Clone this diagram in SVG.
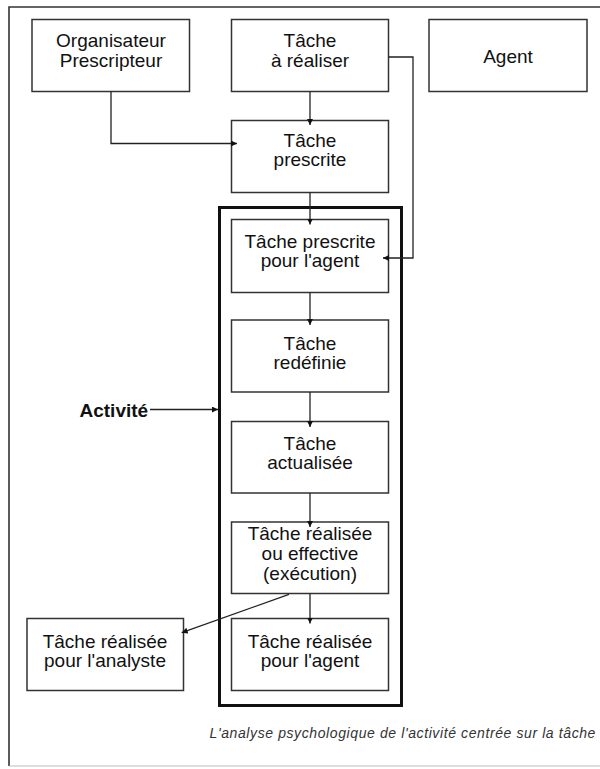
<svg xmlns="http://www.w3.org/2000/svg" width="600" height="769" viewBox="0 0 600 769">
<defs>
<style>
.box{fill:#fff;stroke:#333;stroke-width:1.5}
.lbl{font-family:"Liberation Sans",Arial,sans-serif;font-size:19px;fill:#111;text-anchor:middle}
.con{fill:none;stroke:#222;stroke-width:1.3}
.act{font-family:"Liberation Sans",Arial,sans-serif;font-size:19px;font-weight:bold;fill:#111}
.cap{font-family:"Liberation Sans",Arial,sans-serif;font-size:14px;font-style:italic;fill:#333;letter-spacing:0.6px;text-anchor:end}
</style>
<marker id="arr" markerUnits="userSpaceOnUse" markerWidth="7" markerHeight="7" refX="6" refY="3" orient="auto">
<path d="M0,0 L6,3 L0,6 z" fill="#111"/>
</marker>
</defs>
<rect x="0" y="0" width="600" height="769" fill="#fff"/>
<g id="frame">
<path d="M9,766 V7 H600" fill="none" stroke="#333" stroke-width="1.6"/>
<line x1="9" y1="766" x2="600" y2="766" stroke="#bbb" stroke-width="1"/>
</g>
<g id="activite-box">
<rect x="219.5" y="207.5" width="182" height="498" fill="none" stroke="#111" stroke-width="3"/>
</g>
<g id="organisateur">
<rect class="box" x="32" y="19.5" width="157.5" height="72"/>
<text class="lbl" x="111" y="47">Organisateur</text>
<text class="lbl" x="111" y="67">Prescripteur</text>
</g>
<g id="tache-a-realiser">
<rect class="box" x="231.5" y="19.5" width="157" height="72"/>
<text class="lbl" x="310" y="47">Tâche</text>
<text class="lbl" x="310" y="67">à réaliser</text>
</g>
<g id="agent">
<rect class="box" x="429" y="19.5" width="158" height="72"/>
<text class="lbl" x="508" y="63">Agent</text>
</g>
<g id="tache-prescrite">
<rect class="box" x="231.5" y="120.5" width="157" height="72"/>
<text class="lbl" x="310" y="147">Tâche</text>
<text class="lbl" x="310" y="166">prescrite</text>
</g>
<g id="tache-prescrite-agent">
<rect class="box" x="231.5" y="219.5" width="157" height="73"/>
<text class="lbl" x="310" y="248">Tâche prescrite</text>
<text class="lbl" x="310" y="267">pour l'agent</text>
</g>
<g id="tache-redefinie">
<rect class="box" x="231.5" y="320" width="157" height="72"/>
<text class="lbl" x="310" y="349.5">Tâche</text>
<text class="lbl" x="310" y="368.5">redéfinie</text>
</g>
<g id="tache-actualisee">
<rect class="box" x="231.5" y="421.5" width="157" height="71.5"/>
<text class="lbl" x="310" y="450">Tâche</text>
<text class="lbl" x="310" y="469">actualisée</text>
</g>
<g id="tache-realisee">
<rect class="box" x="231.5" y="522" width="157" height="71.5"/>
<text class="lbl" x="310" y="540">Tâche réalisée</text>
<text class="lbl" x="310" y="560">ou effective</text>
<text class="lbl" x="310" y="580">(exécution)</text>
</g>
<g id="tache-realisee-agent">
<rect class="box" x="231.5" y="618.5" width="157" height="72"/>
<text class="lbl" x="310" y="647.5">Tâche réalisée</text>
<text class="lbl" x="310" y="667">pour l'agent</text>
</g>
<g id="tache-realisee-analyste">
<rect class="box" x="27" y="618.5" width="156.5" height="72"/>
<text class="lbl" x="105" y="647.5">Tâche réalisée</text>
<text class="lbl" x="105" y="667">pour l'analyste</text>
</g>
<g id="activite-label">
<text class="act" x="79.5" y="417">Activité</text>
</g>
<g id="connectors">
<path class="con" d="M111,91.5 V143.5 H237" marker-end="url(#arr)"/>
<path class="con" d="M310,91.5 V125" marker-end="url(#arr)"/>
<path class="con" d="M388.5,57 H413 V258 H383" marker-end="url(#arr)"/>
<path class="con" d="M310,192.5 V224.5" marker-end="url(#arr)"/>
<path class="con" d="M310,292.5 V325" marker-end="url(#arr)"/>
<path class="con" d="M310,392 V427" marker-end="url(#arr)"/>
<path class="con" d="M310,493 V527" marker-end="url(#arr)"/>
<path class="con" d="M310,593.5 V623.5" marker-end="url(#arr)"/>
<path class="con" d="M289,594.3 L181.7,632.7" marker-end="url(#arr)"/>
<path class="con" d="M150,409.5 H218" marker-end="url(#arr)"/>
</g>
<text class="cap" x="596" y="738">L'analyse psychologique de l'activité centrée sur la tâche</text>
</svg>
